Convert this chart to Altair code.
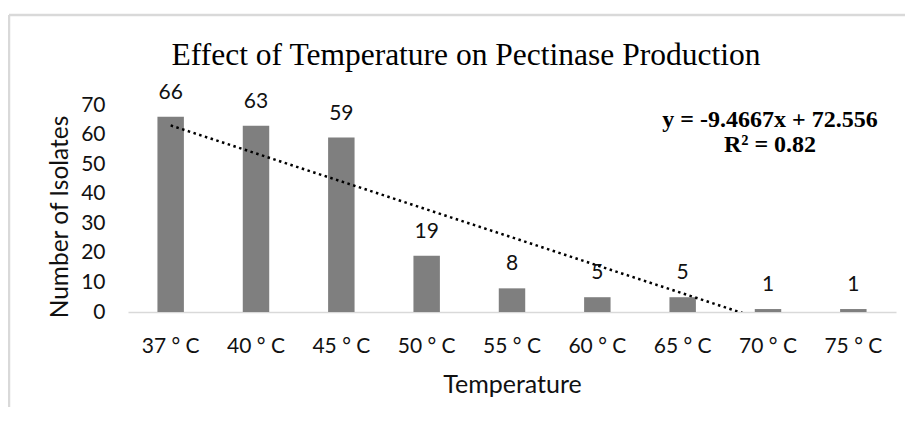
import altair as alt
import pandas as pd

categories = ["37 ° C", "40 ° C", "45 ° C", "50 ° C", "55 ° C", "60 ° C", "65 ° C", "70 ° C", "75 ° C"]
counts = [66, 63, 59, 19, 8, 5, 5, 1, 1]
y_ticks = [0, 10, 20, 30, 40, 50, 60, 70]
title_text = "Effect of Temperature on Pectinase Production"
equation_lines = ["y = -9.4667x + 72.556", "R² = 0.82"]

df = pd.DataFrame({"temp": categories, "count": counts})

W, H = 768, 207
SANS = "Lato"
SERIF = "Liberation Serif"
TXT = "#111111"

base = alt.Chart(df)

x_band = alt.X(
    "temp:N",
    sort=categories,
    scale=alt.Scale(paddingInner=0.69, paddingOuter=0.345),
    axis=alt.Axis(
        title="Temperature",
        labelAngle=0,
        labelFont=SANS,
        labelFontSize=21,
        labelColor=TXT,
        labelBaseline="alphabetic",
        labelPadding=40,
        labelOverlap=False,
        ticks=False,
        tickSize=0,
        domain=True,
        domainColor="#d9d9d9",
        domainWidth=1.5,
        titleFont=SANS,
        titleFontSize=25,
        titleFontWeight="normal",
        titleColor=TXT,
        titleBaseline="alphabetic",
        titleY=80,
    ),
)

y_axis = alt.Axis(
    values=y_ticks,
    title="Number of Isolates",
    grid=False,
    domain=False,
    ticks=False,
    tickSize=0,
    labelPadding=23,
    labelOverlap=False,
    labelFont=SANS,
    labelFontSize=21,
    labelColor=TXT,
    titleFont=SANS,
    titleFontSize=24.5,
    titleFontWeight="normal",
    titleColor=TXT,
    titleBaseline="alphabetic",
    titleX=-61,
    titleY=111.5,
)
y_scale = alt.Scale(domain=[0, 70], nice=False)


def y_enc():
    return alt.Y("count:Q", scale=y_scale, axis=y_axis)


bars = base.mark_bar(color="#7f7f7f").encode(x=x_band, y=y_enc())

labels = base.mark_text(
    baseline="alphabetic", dy=-18, font=SANS, fontSize=21, color=TXT
).encode(x=x_band, y=y_enc(), text="count:Q")

bar_layer = alt.layer(bars, labels)

trend = (
    base.transform_window(idx="row_number()")
    .transform_regression("idx", "count", extent=[1, 9])
    .mark_line(clip=True, color="black", strokeDash=[2.5, 3.5], strokeWidth=2.5)
    .encode(
        x=alt.X("idx:Q", scale=alt.Scale(domain=[0.5, 9.5], nice=False, zero=False), axis=None),
        y=y_enc(),
    )
)

one = alt.Data(values=[{}])

title_mark = alt.Chart(one).mark_text(
    font=SERIF, fontSize=31.5, color="black", baseline="alphabetic", align="center"
).encode(x=alt.value(338), y=alt.value(-40), text=alt.value(title_text))

eq1 = alt.Chart(one).mark_text(
    font=SERIF, fontSize=24, fontWeight="bold", color="black", baseline="alphabetic", align="center"
).encode(x=alt.value(642), y=alt.value(21.7), text=alt.value(equation_lines[0]))

eq2 = alt.Chart(one).mark_text(
    font=SERIF, fontSize=24, fontWeight="bold", color="black", baseline="alphabetic", align="center"
).encode(x=alt.value(642), y=alt.value(46.7), text=alt.value(equation_lines[1]))

border_top = alt.Chart(one).mark_rule(color="#d9d9d9", strokeWidth=2.5).encode(
    x=alt.value(-119), x2=alt.value(780), y=alt.value(-90)
)
border_left = alt.Chart(one).mark_rule(color="#d9d9d9", strokeWidth=2.5).encode(
    x=alt.value(-119), y=alt.value(-90), y2=alt.value(310)
)

chart = (
    alt.layer(border_top, border_left, bar_layer, trend, title_mark, eq1, eq2)
    .resolve_scale(x="independent")
    .properties(
        width=W,
        height=H,
        padding={"left": 120, "top": 97, "right": 9, "bottom": 95},
        autosize=alt.AutoSizeParams(type="none"),
        background="white",
    )
    .configure_view(stroke=None)
)

chart.save("out.html", embed_options={"renderer": "svg", "actions": False})
